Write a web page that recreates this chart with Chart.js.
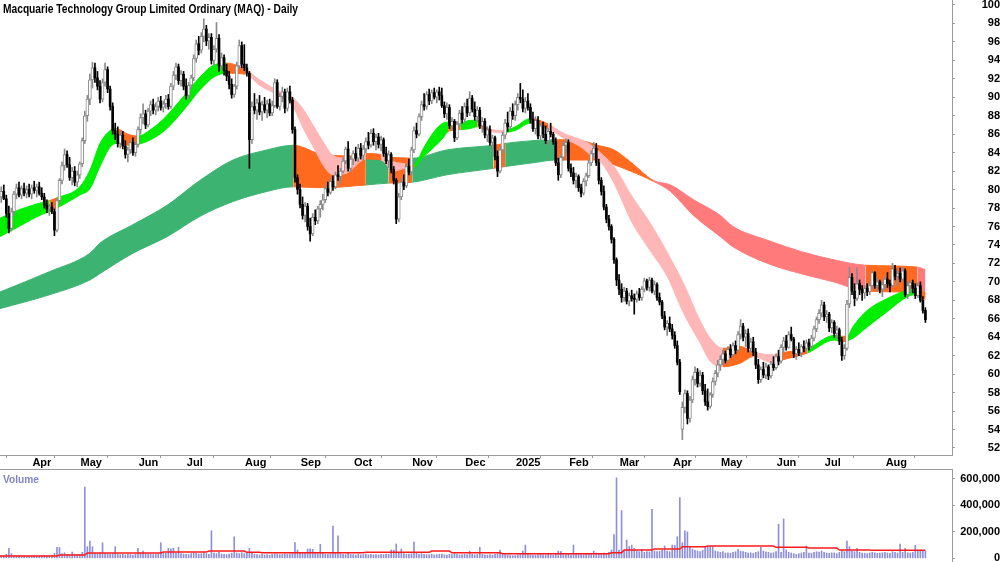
<!DOCTYPE html>
<html>
<head>
<meta charset="utf-8">
<title>MAQ daily</title>
<script src="https://cdn.jsdelivr.net/npm/chart.js@4.4.1/dist/chart.umd.min.js"></script>
<style>
  html, body { margin: 0; padding: 0; background: #fff; }
  #wrap { position: relative; width: 1000px; height: 562px; overflow: hidden; }
  #priceBox { position: absolute; left: 0; top: 0; width: 1000px; height: 469px; }
  #volBox { position: absolute; left: 0; top: 469px; width: 1000px; height: 93px; }
  .lbl { position: absolute; font-weight: bold; white-space: nowrap; line-height: 1; transform-origin: 0 0; }
  #title { left: 3px; top: 2px; color: #000; }
  #volLbl { left: 3px; top: 473px; color: #8484c8; }
</style>
</head>
<body>
<div id="wrap">
  <div id="priceBox"><canvas id="priceChart"></canvas></div>
  <div id="volBox"><canvas id="volChart"></canvas></div>
  <div id="title" class="lbl">Macquarie Technology Group Limited Ordinary (MAQ) - Daily</div>
  <div id="volLbl" class="lbl">Volume</div>
</div>
<script>
(function () {
  "use strict";

  /* ---------- daily bars: [open, high, low, close, volume (thousands)] ---------- */
  var mar24 = [[79.2,80.3,78.6,79.8,18],[79.8,80.5,78.9,79.0,20],[79.0,79.4,77.0,77.4,30],[77.4,78.2,75.3,75.8,75],[75.8,78.0,75.5,77.6,35],[77.6,79.8,77.2,79.5,22],[79.5,80.6,79.0,80.2,18],[80.2,80.8,79.2,79.4,20],[79.4,80.4,79.0,80.1,16],[80.1,80.7,79.3,79.6,18],[79.6,80.4,79.1,80.0,15],[80.0,80.6,79.2,79.5,17]];
  var apr24 = [[79.5,80.5,79.0,80.2,16],[80.2,80.9,79.6,79.9,18],[79.9,80.6,79.2,80.3,15],[80.3,80.8,79.4,79.6,17],[79.6,80.2,78.9,79.2,19],[79.2,79.6,78.0,78.3,22],[78.3,78.9,77.5,77.9,20],[77.9,78.4,77.2,78.1,18],[78.1,78.6,77.4,77.6,21],[77.6,77.9,75.0,75.6,38],[75.6,79.0,75.4,78.8,83],[78.8,81.2,78.5,81.0,82],[81.0,83.0,80.6,82.6,35],[82.6,84.4,82.1,83.8,42],[83.8,84.2,82.4,82.7,30],[82.7,83.5,81.0,81.3,28],[81.3,82.4,80.5,82.0,47],[82.0,82.5,80.4,80.8,32],[80.8,82.0,80.3,81.6,29]];
  var may24 = [[81.6,83.0,81.2,82.8,30],[82.8,85.6,82.5,85.3,45],[85.3,88.5,85.0,88.0,539],[88.0,90.2,87.4,89.8,88],[89.8,92.5,89.2,91.9,130],[91.9,93.8,91.0,93.2,88],[93.2,93.7,91.6,92.1,40],[92.1,92.8,90.8,91.2,35],[91.2,91.8,89.4,89.8,42],[89.8,92.0,89.5,91.6,118],[91.6,93.7,91.2,93.0,38],[93.0,93.3,90.5,90.9,33],[90.9,91.2,88.6,89.0,30],[89.0,89.4,86.0,86.4,36],[86.4,87.2,85.4,86.0,88],[86.0,86.8,84.6,85.0,32],[85.0,86.4,84.5,85.9,28],[85.9,86.3,84.4,84.7,30],[84.7,85.3,83.4,83.8,26],[83.8,84.6,83.0,84.3,32],[84.3,85.4,83.9,85.1,28],[85.1,85.6,83.7,84.0,25],[84.0,85.2,83.6,84.9,30]];
  var jun24 = [[84.9,86.8,84.6,86.5,75],[86.5,88.2,86.0,87.8,40],[87.8,89.3,87.1,88.2,55],[88.2,88.6,86.6,87.0,35],[87.0,88.8,86.8,88.5,30],[88.5,89.6,88.0,89.2,32],[89.2,89.8,88.2,88.6,28],[88.6,89.4,88.1,89.0,30],[89.0,90.0,88.5,89.6,35],[89.6,90.1,88.6,88.9,118],[88.9,89.6,88.4,89.3,40],[89.3,90.2,88.8,89.8,38],[89.8,90.3,88.7,89.0,75],[89.0,91.5,88.8,91.2,72],[91.2,92.8,90.8,92.4,76],[92.4,93.7,91.9,93.3,40],[93.3,93.6,91.4,91.8,83],[91.8,92.9,91.2,92.5,35],[92.5,92.8,90.8,91.2,32]];
  var jul24 = [[91.2,92.0,89.8,90.2,30],[90.2,91.6,89.9,91.3,28],[91.3,92.4,90.9,92.1,35],[92.1,94.6,91.8,94.2,40],[94.2,96.2,93.8,95.8,38],[95.8,96.6,94.6,95.1,32],[95.1,97.0,94.8,96.6,35],[96.6,98.5,96.0,97.4,42],[97.4,97.8,95.6,96.1,36],[96.1,96.9,95.2,96.5,30],[96.5,96.9,93.6,94.0,208],[94.0,95.6,93.5,95.2,40],[95.2,98.1,94.9,96.4,35],[96.4,96.8,92.8,93.4,45],[93.4,94.8,93.0,94.3,33],[94.3,94.6,92.4,92.9,30],[92.9,93.6,91.8,92.3,28],[92.3,92.8,90.9,91.4,32],[91.4,92.0,89.9,90.3,38],[90.3,91.4,90.0,91.2,163],[91.2,93.8,90.9,93.4,40],[93.4,96.2,93.1,95.6,35],[95.6,96.0,93.2,93.6,42]];
  var aug24 = [[93.6,95.7,92.9,93.2,35],[93.2,93.6,92.3,92.6,38],[92.6,92.8,82.3,85.4,75],[85.4,89.5,85.0,89.0,45],[89.0,90.4,88.2,88.6,30],[88.6,89.8,87.6,89.4,28],[89.4,90.2,88.1,88.4,25],[88.4,89.6,87.5,89.2,30],[89.2,90.0,88.3,88.6,26],[88.6,89.7,87.8,89.3,28],[89.3,89.8,88.0,88.3,24],[88.3,89.6,88.0,89.1,30],[89.1,92.0,88.9,91.6,35],[91.6,91.9,88.8,89.0,32],[89.0,90.4,88.6,90.1,28],[90.1,91.1,89.5,90.6,30],[90.6,90.9,88.3,88.8,34],[88.8,91.0,88.5,90.6,30],[90.6,91.2,89.4,89.7,32],[89.7,90.0,86.1,86.5,45],[86.5,86.8,80.8,81.3,118],[81.3,81.6,79.5,80.0,63]];
  var sep24 = [[80.0,80.6,78.0,78.4,45],[78.4,79.2,76.8,77.2,38],[77.2,78.6,76.5,78.2,40],[78.2,78.5,75.6,76.0,70],[76.0,76.9,74.4,75.2,72],[75.2,77.4,75.0,77.0,68],[77.0,77.8,76.2,76.6,40],[76.6,78.2,76.3,77.9,35],[77.9,78.8,77.0,78.4,105],[78.4,79.5,77.8,78.9,38],[78.9,80.4,78.6,80.1,32],[80.1,80.8,79.3,79.7,30],[79.7,81.2,79.5,80.9,35],[80.9,81.5,79.9,80.3,243],[80.3,81.9,80.1,81.6,40],[81.6,82.6,81.0,81.4,170],[81.4,82.3,80.6,82.0,35],[82.0,83.4,81.8,83.1,30],[83.1,84.6,82.8,84.4,28],[84.4,85.2,82.0,82.3,38],[82.3,83.6,81.9,83.3,30]];
  var oct24 = [[83.3,84.2,82.7,83.9,28],[83.9,84.6,83.1,83.4,25],[83.4,84.9,83.0,84.5,30],[84.5,85.0,83.3,83.7,26],[83.7,84.8,83.2,84.4,28],[84.4,85.6,84.0,85.2,32],[85.2,86.2,84.4,84.8,27],[84.8,86.5,84.6,86.1,30],[86.1,86.6,84.8,85.2,26],[85.2,86.0,84.3,85.7,28],[85.7,86.1,84.5,84.9,25],[84.9,85.8,84.2,85.4,30],[85.4,85.6,83.6,83.9,28],[83.9,84.6,82.8,83.1,32],[83.1,84.2,82.4,83.8,30],[83.8,84.0,81.8,82.2,63],[82.2,82.5,80.6,81.0,62],[81.0,81.2,76.3,76.8,108],[76.8,79.6,76.5,79.2,45],[79.2,81.2,78.9,80.8,70],[80.8,81.6,80.0,80.4,35],[80.4,82.8,80.2,82.5,30],[82.5,83.3,81.6,81.9,32]];
  var nov24 = [[81.9,84.6,81.6,84.3,35],[84.3,86.8,84.0,86.4,123],[86.4,87.2,85.6,86.0,40],[86.0,88.2,85.8,87.9,32],[87.9,89.6,87.5,89.2,35],[89.2,90.4,88.6,89.0,30],[89.0,90.6,88.7,90.3,28],[90.3,90.9,89.2,89.6,26],[89.6,90.8,89.3,90.5,30],[90.5,91.0,89.8,90.0,25],[90.0,90.8,89.4,90.6,28],[90.6,91.1,89.7,90.2,30],[90.2,91.0,88.9,89.1,32],[89.1,89.5,87.8,88.2,27],[88.2,89.4,87.6,88.9,25],[88.9,89.2,86.6,86.9,30],[86.9,87.8,86.4,87.4,28],[87.4,87.6,85.2,85.6,35],[85.6,87.4,85.4,87.1,30],[87.1,88.6,86.8,88.3,26],[88.3,89.0,87.2,87.6,28]];
  var dec24 = [[87.6,89.4,87.2,89.0,30],[89.0,89.8,87.9,88.3,28],[88.3,90.6,88.0,89.9,55],[89.9,90.2,88.4,88.7,30],[88.7,89.5,87.5,87.9,26],[87.9,89.0,87.3,88.6,28],[88.6,88.9,86.6,86.9,83],[86.9,87.8,86.2,87.4,30],[87.4,87.7,85.6,85.9,26],[85.9,86.8,85.2,86.5,25],[86.5,86.9,84.8,85.1,28],[85.1,85.9,84.4,85.6,24],[85.6,85.8,83.2,83.6,30],[83.6,84.2,81.4,82.0,35],[82.0,84.6,81.8,84.3,63],[84.3,86.2,84.0,85.9,30],[85.9,87.6,85.5,87.2,28],[87.2,88.4,86.3,86.8,25],[86.8,88.9,86.6,88.5,22],[88.5,89.3,87.6,88.0,20]];
  var jan25 = [[88.0,89.6,87.5,89.2,22],[89.2,90.4,88.6,90.0,25],[90.0,91.5,89.4,89.8,30],[89.8,90.8,88.4,88.8,55],[88.8,90.0,88.3,89.6,100],[89.6,90.4,88.6,88.9,30],[88.9,89.3,87.2,87.6,28],[87.6,88.4,86.3,86.6,25],[86.6,87.9,86.0,87.5,24],[87.5,87.9,85.5,85.8,28],[85.8,87.2,85.4,86.9,30],[86.9,87.3,85.6,86.0,26],[86.0,86.9,85.0,85.3,25],[85.3,86.6,84.8,86.3,30],[86.3,87.2,85.7,86.0,28],[86.0,86.2,84.9,85.2,26],[85.2,85.6,82.6,82.9,32],[82.9,83.4,81.0,81.6,55],[81.6,83.8,81.3,83.5,52],[83.5,85.2,83.2,84.8,30],[84.8,85.5,84.0,85.1,28]];
  var feb25 = [[85.1,85.4,82.0,82.3,30],[82.3,82.8,81.4,81.8,28],[81.8,82.4,80.6,81.0,100],[81.0,81.8,80.2,81.4,30],[81.4,81.6,79.8,80.2,35],[80.2,80.6,79.2,79.6,32],[79.6,81.2,79.4,80.9,28],[80.9,81.8,80.4,81.5,30],[81.5,83.2,81.3,82.9,35],[82.9,84.2,82.6,83.9,30],[83.9,85.1,83.5,84.5,55],[84.5,85.0,82.6,82.9,40],[82.9,83.3,80.6,81.0,35],[81.0,81.3,79.4,79.8,38],[79.8,80.4,77.8,78.1,40],[78.1,78.4,76.4,76.8,35],[76.8,77.2,75.6,76.0,45],[76.0,76.2,74.2,74.6,63],[74.6,74.8,72.0,72.4,180],[72.4,72.6,69.6,70.2,609]];
  var mar25 = [[70.2,70.8,68.6,69.2,63],[69.2,69.8,67.8,68.3,361],[68.3,69.4,67.9,69.0,60],[69.0,69.3,67.6,67.9,138],[67.9,68.8,67.4,68.5,88],[68.5,69.1,67.9,68.2,100],[68.2,68.7,66.5,68.1,75],[68.1,69.0,67.8,68.7,55],[68.7,69.3,68.0,68.3,50],[68.3,69.5,68.0,69.2,68],[69.2,70.4,68.9,70.1,45],[70.1,70.3,69.1,69.4,50],[69.4,70.5,69.0,70.2,48],[70.2,70.4,68.8,69.0,371],[69.0,70.1,68.6,69.7,55],[69.7,69.9,68.0,68.3,50],[68.3,68.8,67.5,67.8,52],[67.8,68.0,66.0,66.3,60],[66.3,66.8,64.8,65.1,93],[65.1,65.8,64.2,65.5,55],[65.5,66.2,64.6,64.9,50]];
  var apr25 = [[64.9,65.4,63.8,64.2,100],[64.2,64.6,62.8,63.1,98],[63.1,63.6,61.0,61.3,163],[61.3,61.6,57.8,58.1,459],[54.0,57.0,52.9,56.4,118],[56.4,58.3,55.8,57.9,208],[57.9,58.2,54.6,55.2,200],[55.2,57.6,54.8,57.2,83],[57.2,59.8,56.9,59.4,70],[59.4,60.8,58.8,60.2,60],[60.2,60.6,58.6,59.0,55],[59.0,60.4,58.7,59.9,50],[59.9,60.2,57.8,58.2,60],[58.2,58.9,56.6,57.0,88],[57.0,58.4,56.1,56.5,85],[56.5,58.0,56.3,57.8,90],[57.8,59.6,57.5,59.2,88],[59.2,60.4,58.8,60.1,55],[60.1,61.5,59.7,61.0,50]];
  var may25 = [[61.0,62.0,60.4,61.6,45],[61.6,62.6,61.0,62.2,50],[62.2,62.5,61.2,61.5,40],[61.5,63.0,61.3,62.7,42],[62.7,63.2,61.8,62.1,38],[62.1,63.4,61.9,63.1,45],[63.1,63.6,62.2,62.6,50],[62.6,64.6,62.4,64.3,68],[64.3,65.9,63.8,65.2,55],[65.2,65.5,63.6,64.0,50],[64.0,64.8,63.0,64.4,45],[64.4,64.9,62.4,62.8,40],[62.8,63.9,62.3,63.5,42],[63.5,64.0,62.0,62.4,38],[62.4,62.8,60.6,61.0,45],[61.0,61.6,59.0,59.4,50],[59.4,60.8,59.1,60.5,83],[60.5,61.3,59.6,59.9,55],[59.9,61.2,59.5,60.8,48],[60.8,61.0,59.4,59.8,45],[59.8,61.4,59.6,61.1,40],[61.1,61.9,60.4,60.7,42]];
  var jun25 = [[60.7,62.2,60.5,61.9,50],[61.9,62.6,61.0,61.4,258],[61.4,63.2,61.2,62.9,45],[62.9,64.0,62.4,63.6,298],[63.6,64.2,62.6,62.9,63],[62.9,64.6,62.8,64.3,45],[64.3,65.1,63.6,63.8,40],[63.8,64.0,61.8,62.2,35],[62.2,63.0,61.6,62.7,30],[62.7,63.4,62.0,62.3,35],[62.3,63.2,61.9,63.0,40],[63.0,63.6,62.4,62.8,45],[62.8,63.7,62.5,63.4,93],[63.4,63.8,62.6,63.0,40],[63.0,64.2,62.8,63.9,38],[63.9,65.2,63.6,64.9,45],[64.9,66.2,64.6,65.9,50],[65.9,67.0,65.5,66.6,48],[66.6,68.0,66.2,67.5,55]];
  var jul25 = [[67.5,67.8,65.8,66.2,45],[66.2,66.9,65.6,66.5,40],[66.5,66.7,64.6,65.0,38],[65.0,65.9,64.5,65.6,42],[65.6,65.8,64.0,64.4,40],[64.4,65.2,63.8,64.8,35],[64.8,65.0,63.2,63.6,45],[63.6,64.0,61.5,62.0,60],[62.0,63.2,61.6,62.8,50],[62.8,68.0,62.6,67.6,130],[67.6,71.6,67.2,70.5,88],[70.5,70.9,68.6,69.0,55],[69.0,69.8,67.4,68.2,50],[68.2,71.5,68.0,69.8,75],[69.8,70.2,68.6,69.2,45],[69.2,69.6,68.0,68.8,40],[68.8,69.6,68.2,69.3,38],[69.3,69.8,68.5,68.9,35],[68.9,70.0,68.6,69.6,40],[69.6,71.2,69.3,71.0,45],[71.0,71.1,69.3,69.6,42],[69.6,70.4,69.0,70.0,38],[70.0,70.2,68.8,69.2,40],[69.2,70.0,68.4,69.7,42]];
  var aug25 = [[69.7,70.6,69.2,70.3,45],[70.3,71.0,69.4,69.8,40],[69.8,70.2,68.9,69.6,38],[69.6,72.0,69.4,71.4,50],[71.4,71.8,70.2,70.6,45],[70.6,71.2,69.6,70.9,40],[70.9,71.5,70.0,70.3,108],[70.3,71.6,70.1,71.2,45],[71.2,71.4,68.4,68.6,75],[68.6,70.0,68.2,69.6,42],[69.6,70.1,68.8,69.9,40],[69.9,70.2,68.8,69.3,45],[69.3,69.8,68.2,68.5,98],[68.5,69.9,68.3,69.6,55],[69.6,70.0,67.8,68.0,60],[68.0,68.4,66.6,66.9,58],[66.9,67.2,65.6,65.9,55]];

  var months = [mar24, apr24, may24, jun24, jul24, aug24, sep24, oct24, nov24, dec24, jan25, feb25, mar25, apr25, may25, jun25, jul25, aug25];
  var monthLabels = ["", "Apr", "May", "Jun", "Jul", "Aug", "Sep", "Oct", "Nov", "Dec", "2025", "Feb", "Mar", "Apr", "May", "Jun", "Jul", "Aug"];

  /* ---------- ribbons: [day, upper, lower, colour code of the stretch that starts here] ---------- */
  var fastBand = [[-0.5,76.9,74.9,"G"],[7,77.8,76.0,"G"],[16,78.6,77.3,"G"],[19,78.8,77.6,"O"],[22,79.1,78.0,"G"],[31,80.3,79.4,"G"],[35,82.1,80.1,"G"],[39,85.0,82.5,"G"],[43,86.4,84.6,"G"],[45.5,86.6,85.0,"O"],[50,86.0,84.8,"O"],[54,85.8,84.9,"G"],[59,86.5,85.4,"G"],[65,87.9,86.5,"G"],[72,90.1,88.6,"G"],[78.5,92.2,90.8,"G"],[84,93.5,92.2,"G"],[89,93.7,92.6,"O"],[96.5,93.0,92.5,"P"],[102,91.9,91.3,"P"],[110,90.6,90.1,"P"],[115.5,89.9,88.8,"P"],[119.5,88.6,86.5,"P"],[123.5,86.8,84.5,"P"],[127.5,85.0,82.5,"P"],[131,83.7,81.6,"P"],[136.5,83.4,81.8,"P"],[144,83.9,83.3,"O"],[150,83.8,83.2,"P"],[155,83.0,82.0,"P"],[159.5,82.8,82.3,"O"],[163,82.7,82.4,"G"],[167,84.6,83.6,"G"],[171,86.3,84.6,"G"],[174.5,87.2,85.6,"G"],[176.5,87.3,86.3,"O"],[181.5,87.2,86.5,"G"],[185,87.5,86.6,"G"],[188,87.5,86.8,"O"],[192.5,86.6,86.3,"P"],[198.5,86.4,86.2,"G"],[203,86.8,86.4,"G"],[209,87.7,87.2,"O"],[216,87.1,86.6,"P"],[222,86.1,85.6,"P"],[229,85.4,84.6,"P"],[232,85.0,83.9,"P"],[237,83.9,82.9,"P"],[242,82.5,80.7,"P"],[249,79.3,76.5,"P"],[256,76.5,73.5,"P"],[263,73.2,70.6,"P"],[269.5,69.8,66.6,"P"],[276,65.8,63.4,"P"],[280,63.9,61.4,"P"],[285,62.8,60.8,"O"],[292,63.0,61.2,"O"],[297,62.4,61.9,"P"],[305,62.1,61.2,"P"],[308,62.3,61.5,"O"],[318.5,62.8,62.3,"G"],[329,64.2,63.7,"G"],[332,64.1,63.5,"O"],[334,64.1,63.6,"G"],[336.5,65.2,63.9,"G"],[342,66.9,65.1,"G"],[350,68.2,66.8,"G"],[358,69.1,68.4,"G"],[361,69.2,68.6,"O"],[365,68.8,68.1,"O"]];
  var slowBand = [[-0.5,68.9,67.1,"G"],[19,71.1,68.6,"G"],[35,73.1,70.2,"G"],[39,74.2,70.9,"G"],[52,76.2,73.1,"G"],[65.5,78.3,74.9,"G"],[78.5,81.0,77.1,"G"],[91.5,83.2,78.7,"G"],[105,84.3,79.8,"G"],[115.3,84.8,80.3,"O"],[127,83.8,80.2,"O"],[144,83.6,80.5,"G"],[153,83.5,80.7,"O"],[162.3,83.4,80.8,"G"],[176,84.3,81.6,"G"],[194.4,84.8,82.3,"O"],[199,85.0,82.5,"G"],[210,85.3,82.9,"G"],[219,85.4,83.2,"O"],[229,85.3,83.2,"O"],[235.5,84.8,83.2,"O"],[242,84.3,82.7,"O"],[248.5,83.0,82.0,"O"],[257.5,81.0,80.9,"R"],[264.3,80.5,79.8,"R"],[273.4,78.9,77.2,"R"],[284,77.2,74.9,"R"],[289,76.0,73.8,"R"],[302.7,74.5,72.0,"R"],[315.7,73.3,70.9,"R"],[328.7,72.4,70.0,"R"],[341.4,71.8,69.0,"O"],[361.8,71.6,68.8,"R"],[365,71.3,68.4,"R"]];
  var fastColors = { G: "#00ee00", O: "#ff6a1f", P: "#ffb6b6" };
  var slowColors = { G: "#3cb371", O: "#ff6a1f", R: "#ff7b7b" };

  /* ---------- volume average: [day, thousands] ---------- */
  var volAvg = [[-0.5,17],[22,17],[23,25],[33,25],[34,40],[63,40],[64,47],[81,47],[82,55],[96,55],[97,45],[102,45],[103,42],[143,42],[144,45],[169,45],[170,55],[177,55],[178,42],[197,42],[198,35],[240,35],[241,42],[245,42],[246,63],[257,63],[258,70],[268,70],[269,88],[278,88],[279,93],[305,93],[306,83],[318,83],[319,78],[330,78],[331,63],[343,63],[344,60],[365,60]];

  var priceTicks = [52,54,56,58,60,62,64,66,68,70,72,74,76,78,80,82,84,86,88,90,92,94,96,98,100];
  var volTicks = [0, 200000, 400000, 600000];

  /* ---------- fonts ---------- */
  function hasFont(name) {
    var c = document.createElement("canvas").getContext("2d");
    c.font = "20px monospace"; var a = c.measureText("Macquarie 0123").width;
    c.font = '20px "' + name + '", monospace'; var b = c.measureText("Macquarie 0123").width;
    return a !== b;
  }
  var narrow = hasFont("Liberation Sans Narrow") ? "Liberation Sans Narrow" : (hasFont("Arial Narrow") ? "Arial Narrow" : "");
  var fam = narrow ? '"' + narrow + '", sans-serif' : '"Liberation Sans", Arial, sans-serif';
  var fs = narrow ? 12 : 11;
  var tickFont = { family: fam, size: fs, weight: "bold", lineHeight: 1 };
  function textW(t) {
    var c = document.createElement("canvas").getContext("2d");
    c.font = "bold " + fs + "px " + fam;
    return c.measureText(t).width;
  }
  function fitText(id, size, w) {
    var el = document.getElementById(id);
    el.style.font = "bold " + size + "px " + fam;
    var cur = el.getBoundingClientRect().width;
    if (cur > 0) el.style.transform = "scaleX(" + (w / cur) + ")";
  }
  fitText("title", narrow ? 13 : 12, 295);
  fitText("volLbl", narrow ? 12.5 : 11.5, 36);

  /* ---------- build marks ---------- */
  var bars = [], tickVals = [], tickText = [];
  months.forEach(function (m, k) {
    if (monthLabels[k]) { tickVals.push(bars.length); tickText.push(monthLabels[k]); }
    bars = bars.concat(m);
  });
  var wickUp = [], wickDn = [], bodyUp = [], bodyDn = [], vols = [];
  bars.forEach(function (b, i) {
    var x = i + 0.5, up = b[3] >= b[0];
    (up ? wickUp : wickDn).push({ x: x, y: [b[2], b[1]] });
    (up ? bodyUp : bodyDn).push({ x: x, y: [Math.min(b[0], b[3]), Math.max(b[0], b[3])] });
    vols.push({ x: x, y: b[4] * 1000 });
  });

  function ribbon(rows, colors, order) {
    var pick = function (ctx) { return colors[rows[ctx.p0DataIndex][3]]; };
    var base = function () {
      return { type: "line", pointRadius: 0, borderWidth: 1, cubicInterpolationMode: "monotone",
        borderColor: colors[rows[0][3]], backgroundColor: colors[rows[0][3]],
        segment: { borderColor: pick, backgroundColor: pick } };
    };
    var top = base(), bot = base();
    top.data = rows.map(function (r) { return { x: r[0] + 0.5, y: r[1] }; });
    top.fill = "+1"; top.order = order + 1;
    bot.data = rows.map(function (r) { return { x: r[0] + 0.5, y: r[2] }; });
    bot.fill = false; bot.order = order;
    return [top, bot];
  }

  var axisGray = "#9a9a9a";
  var xMax = 376;
  var common = {
    responsive: true, maintainAspectRatio: false, animation: false, devicePixelRatio: 1,
    events: [], layout: { padding: 0 },
    plugins: { legend: { display: false }, tooltip: { enabled: false } }
  };
  function rightAxis(min, max, ticks, widest, fmt) {
    return {
      position: "right", min: min, max: max,
      grid: { drawOnChartArea: false, drawTicks: true, tickLength: 3, color: axisGray },
      border: { color: axisGray },
      afterBuildTicks: function (s) { s.ticks = ticks.map(function (v) { return { value: v }; }); },
      afterFit: function (s) { s.width = 48; s.paddingTop = 0; s.paddingBottom = 0; },
      ticks: { autoSkip: false, crossAlign: "far", padding: 43 - textW(widest), color: "#000", font: tickFont, callback: fmt }
    };
  }

  /* ---------- price chart ---------- */
  var ds = [].concat(ribbon(slowBand, slowColors, 8), ribbon(fastBand, fastColors, 6), [
    { type: "bar", data: wickUp, backgroundColor: "#8a8a8a", barThickness: 1, grouped: false, order: 4 },
    { type: "bar", data: wickDn, backgroundColor: "#000", barThickness: 1, grouped: false, order: 3 },
    { type: "bar", data: bodyUp, backgroundColor: "#fff", borderColor: "#8a8a8a", borderWidth: 1, borderSkipped: false, minBarLength: 1, barThickness: 3, grouped: false, order: 2 },
    { type: "bar", data: bodyDn, backgroundColor: "#000", minBarLength: 1, barThickness: 2, grouped: false, order: 1 }
  ]);
  new Chart(document.getElementById("priceChart"), {
    type: "bar",
    data: { datasets: ds },
    options: Object.assign({}, common, {
      scales: {
        x: {
          type: "linear", min: 0, max: xMax, offset: false,
          grid: { drawOnChartArea: false, drawTicks: true, tickLength: 3, color: axisGray },
          border: { color: axisGray },
          afterBuildTicks: function (s) { s.ticks = tickVals.map(function (v) { return { value: v }; }); },
          afterFit: function (s) { s.height = 14; s.paddingLeft = 0; s.paddingRight = 0; },
          ticks: { autoSkip: false, maxRotation: 0, align: "start", labelOffset: 2, padding: -1, color: "#000", font: tickFont,
            callback: function (v, i) { return tickText[i]; } }
        },
        y: rightAxis(51.24, 100.54, priceTicks, "100", function (v) { return String(v); })
      }
    })
  });

  /* ---------- volume chart ---------- */
  var topLine = {
    id: "topLine",
    afterDraw: function (c) {
      var a = c.chartArea, g = c.ctx;
      g.save(); g.strokeStyle = axisGray; g.lineWidth = 1;
      g.beginPath(); g.moveTo(0, a.top + 0.5); g.lineTo(a.right, a.top + 0.5); g.stroke(); g.restore();
    }
  };
  new Chart(document.getElementById("volChart"), {
    type: "bar",
    data: {
      datasets: [
        { type: "line", data: volAvg.map(function (r) { return { x: r[0] + 0.5, y: r[1] * 1000 }; }), borderColor: "#ff1a1a", borderWidth: 1.5, pointRadius: 0, tension: 0, order: 1 },
        { type: "bar", data: vols, backgroundColor: "#8f8fdc", barThickness: 1, grouped: false, order: 2 }
      ]
    },
    options: Object.assign({}, common, {
      scales: {
        x: { type: "linear", min: 0, max: xMax, offset: false, display: false },
        y: rightAxis(-28000, 675660, volTicks, "600,000", function (v) { return v.toLocaleString("en-US"); })
      }
    }),
    plugins: [topLine]
  });
})();
</script>
</body>
</html>
